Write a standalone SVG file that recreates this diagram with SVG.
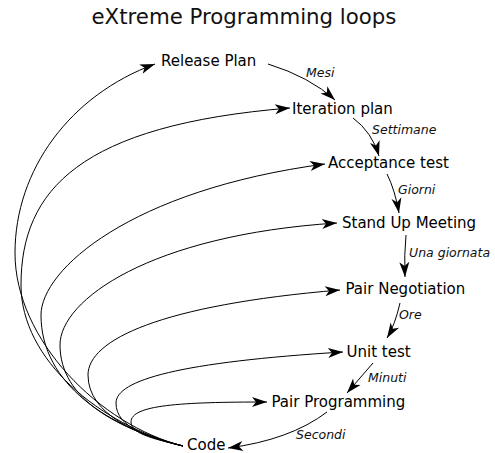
<svg xmlns="http://www.w3.org/2000/svg" width="495" height="453" viewBox="0 0 495 453">
<defs>
<marker id="ah" markerUnits="userSpaceOnUse" viewBox="-16 -6 17 12" markerWidth="17" markerHeight="12" refX="0" refY="0" orient="auto">
<path d="M0,0 L-15,-5 L-11,0 L-15,5 Z" fill="#000"/>
</marker>
<style>
.n{font-family:"DejaVu Sans","Liberation Sans",sans-serif;font-size:15px;fill:#000}
.t{font-family:"DejaVu Sans","Liberation Sans",sans-serif;font-size:21.3px;fill:#111}
.e{font-family:"DejaVu Sans","Liberation Sans",sans-serif;font-size:12.5px;font-style:italic;fill:#111}
.c{fill:none;stroke:#000;stroke-width:1;marker-end:url(#ah)}
</style>
</defs>
<rect width="495" height="453" fill="#fff"/>
<text class="t" x="244" y="24" text-anchor="middle">eXtreme Programming loops</text>
<g id="connectors">
<path class="c" d="M183,446 C100,425 15,340 15,253 C15,170 70,95 155,64"/>
<path class="c" d="M183,446 C100,425 21,360 21,285 C21,190 80,125 290,108"/>
<path class="c" d="M183,446 C110,428 41,385 41,315 C41,270 130,190 325,164"/>
<path class="c" d="M183,446 C120,430 60,400 60,345 C60,300 150,235 337,223"/>
<path class="c" d="M183,446 C140,436 88,415 88,375 C88,340 160,305 340,290"/>
<path class="c" d="M183,446 C150,438 116,428 116,403 C116,380 180,362 343,352"/>
<path class="c" d="M183,446 C160,440 131,435 131,422 C131,405 180,402 267,402"/>
<path class="c" d="M268,64 Q310,77 335,100"/>
<path class="c" d="M353,118 Q372,132 379,156"/>
<path class="c" d="M387,174 Q395,190 399,213"/>
<path class="c" d="M406,235 Q404,255 405,277"/>
<path class="c" d="M400,303 Q395,325 387,338"/>
<path class="c" d="M373,363 L347,393"/>
<path class="c" d="M327,412 Q290,440 228,448"/>
</g>
<g id="edge-labels">
<text class="e" x="306" y="77">Mesi</text>
<text class="e" x="372" y="134">Settimane</text>
<text class="e" x="398" y="194">Giorni</text>
<text class="e" x="409" y="257">Una giornata</text>
<text class="e" x="399" y="319">Ore</text>
<text class="e" x="368" y="382">Minuti</text>
<text class="e" x="296" y="439">Secondi</text>
</g>
<g id="release-plan"><text class="n" x="161" y="66">Release Plan</text></g>
<g id="iteration-plan"><text class="n" x="292" y="114">Iteration plan</text></g>
<g id="acceptance-test"><text class="n" x="328" y="168">Acceptance test</text></g>
<g id="stand-up-meeting"><text class="n" x="342" y="228">Stand Up Meeting</text></g>
<g id="pair-negotiation"><text class="n" x="345.5" y="294">Pair Negotiation</text></g>
<g id="unit-test"><text class="n" x="346.5" y="357">Unit test</text></g>
<g id="pair-programming"><text class="n" x="271.5" y="407">Pair Programming</text></g>
<g id="code"><text class="n" x="187" y="450">Code</text></g>
</svg>
